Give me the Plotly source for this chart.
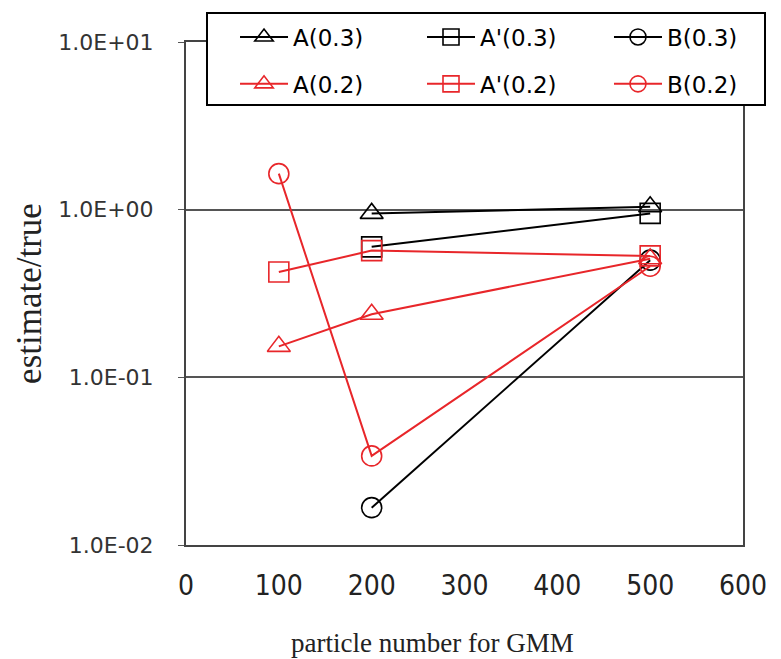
import plotly.graph_objects as go

names = ["A(0.3)", "A'(0.3)", "B(0.3)", "A(0.2)", "A'(0.2)", "B(0.2)"]
xs = {
    "A(0.3)": [200, 500],
    "A'(0.3)": [200, 500],
    "B(0.3)": [200, 500],
    "A(0.2)": [100, 200, 500],
    "A'(0.2)": [100, 200, 500],
    "B(0.2)": [100, 200, 500],
}
ys = {
    "A(0.3)": [0.95, 1.04],
    "A'(0.3)": [0.60, 0.95],
    "B(0.3)": [0.0167, 0.50],
    "A(0.2)": [0.153, 0.238, 0.51],
    "A'(0.2)": [0.425, 0.57, 0.53],
    "B(0.2)": [1.64, 0.034, 0.46],
}
symbols = {"A": "triangle-up-open", "A'": "square-open", "B": "circle-open"}
colors = {"0.3": "#000000", "0.2": "#e8262a"}
legend_cols = {"A": "legend", "A'": "legend2", "B": "legend3"}

ytickvals = [0.01, 0.1, 1, 10]
yticktext = ["1.0E-02", "1.0E-01", "1.0E+00", "1.0E+01"]
xtickvals = [0, 100, 200, 300, 400, 500, 600]
xtitle = "particle number for GMM"
ytitle = "estimate/true"

fig = go.Figure()
for n in names:
    key = n.split("(")[0]
    grp = n.split("(")[1].rstrip(")")
    c = colors[grp]
    fig.add_trace(go.Scatter(
        x=xs[n], y=ys[n], name=n, mode="lines+markers",
        legend=legend_cols[key], legendgroup=n,
        line=dict(color=c, width=2),
        marker=dict(symbol=symbols[key], size=20, color=c, line=dict(color=c, width=1.6)),
    ))

leg_common = dict(
    orientation="v", xanchor="left", yanchor="middle", y=0.9632,
    borderwidth=0, bgcolor="rgba(0,0,0,0)",
    font=dict(family="DejaVu Sans", size=23, color="black"),
    itemwidth=48, tracegroupgap=14, traceorder="grouped",
)

# legend frame (white box with black border)
fig.add_shape(type="rect", xref="paper", yref="paper",
              x0=0.0377, x1=1.0395, y0=0.8748, y1=1.0577,
              line=dict(color="black", width=2), fillcolor="white", layer="above")

fig.update_layout(
    width=781, height=659,
    margin=dict(l=186, r=38, t=42, b=114, autoexpand=False),
    paper_bgcolor="white", plot_bgcolor="white",
    showlegend=True,
    legend=dict(x=0.088, **leg_common),
    legend2=dict(x=0.4237, **leg_common),
    legend3=dict(x=0.7594, **leg_common),
    xaxis=dict(
        range=[0, 600], tickvals=xtickvals, showgrid=False, zeroline=False,
        showline=True, linecolor="#444444", linewidth=2, mirror=True,
        ticks="", ticklabelstandoff=14,
        tickfont=dict(family="DejaVu Sans Condensed", size=28, color="#222222"),
    ),
    yaxis=dict(
        type="log", range=[-2, 1], tickvals=ytickvals, ticktext=yticktext,
        showgrid=True, gridcolor="#555555", gridwidth=1.5, zeroline=False,
        showline=True, linecolor="#444444", linewidth=2, mirror=True,
        ticks="outside", ticklen=6, tickcolor="#555555", ticklabelstandoff=20,
        tickfont=dict(family="DejaVu Sans", size=22, color="#333333"),
        title=dict(text=ytitle, font=dict(family="Liberation Serif", size=35, color="#222222"), standoff=6),
    ),
    annotations=[dict(
        text=xtitle, xref="paper", yref="paper", x=0.442, y=-0.195,
        xanchor="center", yanchor="middle", showarrow=False,
        font=dict(family="Liberation Serif", size=27, color="#222222"),
    )],
)

fig.write_html("out.html")
